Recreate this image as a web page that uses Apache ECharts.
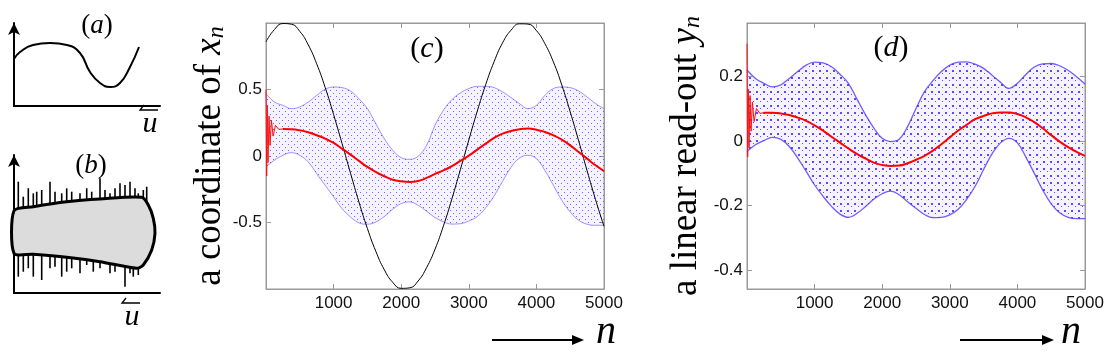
<!DOCTYPE html>
<html>
<head>
<meta charset="utf-8">
<script src="https://cdn.jsdelivr.net/npm/echarts@6/dist/echarts.min.js"></script>
<style>
  html, body { margin: 0; padding: 0; background: #fff; }
  #chart { width: 1110px; height: 353px; }
</style>
</head>
<body>
<div id="chart"></div>
<script>
// (a) schematic curve
var curveAX = [0, 6, 19, 36, 53, 66, 76, 86, 96, 106, 116, 125];
var curveAY = [47, 54, 61, 63, 61, 53, 34, 23, 19, 23, 39, 59];

// (b) schematic: outline of the grey body and the spikes
var shapeBX = [0, 19.3, 52.7, 86, 127.7, 134.3, 139.3, 141, 137.7, 129.3, 122.7, 86, 52.7, 19.3, 0];
var shapeBY = [82.3, 86.3, 91.3, 94, 95.7, 88, 74.7, 59.7, 43, 28, 24.7, 31.3, 35.7, 38.7, 39.7];
var spikeUpX = [4.3, 9.3, 14.3, 19.3, 22.7, 27.7, 36, 41, 47.7, 52.7, 57.7, 66, 72.7, 77.7, 86, 91, 96, 101, 106, 111, 116, 121, 124.3, 129.3, 132.7];
var spikeUpY = [111.3, 96.3, 104.7, 99.7, 101.3, 103, 111.3, 101.3, 99.7, 104.7, 101.3, 99.7, 104.7, 101.3, 114.7, 103, 99.7, 104.7, 109.7, 108, 111.3, 104.7, 99.7, 103, 106.3];
var spikeDownX = [4.3, 9.3, 14.3, 19.3, 27.7, 36, 41, 47.7, 52.7, 57.7, 66, 72.7, 79.3, 86, 96, 101, 111, 116, 119.3, 124.3];
var spikeDownY = [16.3, 21.3, 24.7, 16.3, 13, 24.7, 26.3, 16.3, 21.3, 24.7, 19.7, 28, 21.3, 24.7, 19.7, 21.3, 6.3, 19.7, 16.3, 18];

// (c), (d) time steps n
var nSteps = [0, 125, 250, 375, 500, 625, 750, 875, 1000, 1125, 1250, 1375, 1500, 1625, 1750, 1875, 2000,
  2125, 2250, 2375, 2500, 2625, 2750, 2875, 3000, 3125, 3250, 3375, 3500, 3625, 3750, 3875, 4000,
  4125, 4250, 4375, 4500, 4625, 4750, 4875, 5000];

// (c) coordinate x_n: envelope of the blue cloud, black drive, red mean
var upperC = [0.469, 0.406, 0.381, 0.356, 0.369, 0.406, 0.456, 0.502, 0.519, 0.514, 0.489, 0.431, 0.356, 0.243,
  0.131, 0.043, -0.012, -0.025, -0.002, 0.08, 0.231, 0.344, 0.424, 0.474, 0.507, 0.524, 0.524, 0.514, 0.482,
  0.439, 0.394, 0.356, 0.381, 0.456, 0.507, 0.519, 0.514, 0.489, 0.444, 0.394, 0.356];
var lowerC = [-0.082, -0.032, 0.005, 0.025, 0.005, -0.045, -0.133, -0.22, -0.308, -0.396, -0.458, -0.503, -0.513,
  -0.496, -0.455, -0.4, -0.358, -0.345, -0.371, -0.415, -0.462, -0.495, -0.512, -0.509, -0.489, -0.455, -0.39,
  -0.3, -0.19, -0.085, -0.015, 0.005, -0.02, -0.108, -0.22, -0.333, -0.421, -0.483, -0.513, -0.521, -0.521];
var blackC = [0.859, 0.951, 0.996, 0.991, 0.937, 0.836, 0.693, 0.516, 0.312, 0.094, -0.129, -0.346, -0.545, -0.717,
  -0.855, -0.95, -0.995, -0.991, -0.94, -0.84, -0.701, -0.525, -0.322, -0.103, 0.12, 0.337, 0.537, 0.71, 0.851,
  0.946, 0.994, 0.992, 0.943, 0.845, 0.709, 0.535, 0.332, 0.114, -0.111, -0.328, -0.529];
// red mean from n = 250 on
var redC = [0.203, 0.201, 0.193, 0.178, 0.156, 0.131, 0.098, 0.055, 0.01, -0.037, -0.082, -0.12, -0.152, -0.178,
  -0.19, -0.195, -0.188, -0.165, -0.135, -0.108, -0.077, -0.037, 0.003, 0.048, 0.093, 0.136, 0.168, 0.188, 0.201,
  0.206, 0.198, 0.181, 0.156, 0.123, 0.08, 0.03, -0.02, -0.07, -0.113];
// initial transient, n = 0 .. 250
var redStartN = [0, 10, 20, 30, 45, 60, 80, 105, 140, 190, 250];
var redStartC = [0.5, -0.15, 0.38, -0.05, 0.3, 0.08, 0.27, 0.15, 0.23, 0.2, 0.203];

// (d) read-out y_n
var upperD = [0.219, 0.193, 0.178, 0.167, 0.173, 0.193, 0.214, 0.234, 0.243, 0.241, 0.229, 0.206, 0.178, 0.13,
  0.082, 0.04, 0.008, -0.002, 0.005, 0.044, 0.1, 0.152, 0.186, 0.214, 0.234, 0.243, 0.244, 0.237, 0.224, 0.203,
  0.181, 0.162, 0.178, 0.205, 0.228, 0.238, 0.239, 0.232, 0.218, 0.198, 0.176];
var lowerD = [-0.033, -0.012, 0.001, 0.011, 0.005, -0.017, -0.053, -0.094, -0.136, -0.171, -0.202, -0.226, -0.236,
  -0.224, -0.203, -0.18, -0.163, -0.155, -0.166, -0.188, -0.208, -0.227, -0.237, -0.236, -0.228, -0.211, -0.18,
  -0.14, -0.088, -0.04, -0.006, 0.008, -0.006, -0.05, -0.1, -0.152, -0.194, -0.222, -0.236, -0.24, -0.24];
var redD = [0.087, 0.087, 0.085, 0.08, 0.072, 0.062, 0.048, 0.032, 0.013, -0.005, -0.023, -0.04, -0.054, -0.067,
  -0.074, -0.077, -0.076, -0.069, -0.058, -0.046, -0.03, -0.01, 0.011, 0.032, 0.05, 0.067, 0.077, 0.085, 0.088,
  0.088, 0.083, 0.073, 0.058, 0.039, 0.018, -0.002, -0.019, -0.034, -0.046];
var redStartD = [0.3, -0.05, 0.16, -0.02, 0.14, 0.03, 0.12, 0.06, 0.1, 0.085, 0.087];

var yTicksD = [-0.4, -0.2, 0, 0.2];

var serif = 'Liberation Serif';
var sans = 'Liberation Sans';
var boxColor = '#9a9a9a';

function dotPattern(size, dots, dotColor, bg) {
  var cv = document.createElement('canvas');
  cv.width = cv.height = size;
  var ctx = cv.getContext('2d');
  ctx.fillStyle = bg;
  ctx.fillRect(0, 0, size, size);
  ctx.fillStyle = dotColor;
  dots.forEach(function(d) { ctx.fillRect(d[0], d[1], d[2], d[2]); });
  return { image: cv, repeat: 'repeat' };
}

function pairs(xs, ys) {
  return xs.map(function(x, i) { return [x, ys[i]]; });
}

function diff(a, b) {
  return a.map(function(v, i) { return +(v - b[i]).toFixed(4); });
}

function shapeItem(params, api) {
  if (params.dataIndex !== 0) return;
  var pts = shapeBX.map(function(x, i) { return api.coord([x, shapeBY[i]]); });
  return {
    type: 'polygon',
    shape: { points: pts, smooth: 0.25 },
    style: { fill: '#dcdcdc', stroke: '#000', lineWidth: 3, lineJoin: 'round' }
  };
}

function spikeItem(params, api) {
  var p0 = api.coord([api.value(0), api.value(1)]);
  var p1 = api.coord([api.value(0), api.value(2)]);
  return {
    type: 'line',
    shape: { x1: p0[0], y1: p0[1], x2: p1[0], y2: p1[1] },
    style: { stroke: '#000', lineWidth: 1.6 }
  };
}

var spikeData = spikeUpX.map(function(x, i) { return [x, 80, spikeUpY[i]]; })
  .concat(spikeDownX.map(function(x, i) { return [x, 45, spikeDownY[i]]; }));

function sketchX(grid, max) {
  return {
    gridIndex: grid, type: 'value', min: 0, max: max,
    axisLine: { show: true, lineStyle: { color: '#000', width: 2 } },
    axisTick: { show: false }, axisLabel: { show: false }, splitLine: { show: false }
  };
}
function sketchY(grid, max) {
  return {
    gridIndex: grid, type: 'value', min: 0, max: max,
    axisLine: { show: true, symbol: ['none', 'arrow'], symbolSize: [9, 12], lineStyle: { color: '#000', width: 2 } },
    axisTick: { show: false }, axisLabel: { show: false }, splitLine: { show: false }
  };
}

function plotX(grid, pos, labels) {
  return {
    gridIndex: grid, type: 'value', position: pos, min: 0, max: 5000, interval: 1000,
    axisLine: { show: true, onZero: false, lineStyle: { color: boxColor } },
    axisTick: { show: true, inside: true, length: 5, lineStyle: { color: boxColor } },
    axisLabel: {
      show: labels, showMinLabel: false, color: '#111', fontSize: 17, fontFamily: sans, margin: 6,
      formatter: function(v) { return String(v); }
    },
    splitLine: { show: false }
  };
}

function catX(grid) {
  return { gridIndex: grid, type: 'category', show: false, boundaryGap: false, data: nSteps };
}

var nameRich = {
  r: { fontFamily: serif, fontSize: 37, color: '#000' },
  i: { fontFamily: serif, fontSize: 37, fontStyle: 'italic', color: '#000' },
  s: { fontFamily: serif, fontSize: 24, fontStyle: 'italic', color: '#000', verticalAlign: 'bottom' }
};

var labelRich = {
  p: { fontFamily: serif, fontSize: 30, color: '#000' },
  i: { fontFamily: serif, fontSize: 30, fontStyle: 'italic', color: '#000' },
  ps: { fontFamily: serif, fontSize: 27, color: '#000' },
  is: { fontFamily: serif, fontSize: 27, fontStyle: 'italic', color: '#000' }
};

var patC = dotPattern(6, [[0, 0, 1], [3, 3, 1]], 'rgba(80,50,255,0.75)', 'rgba(150,135,255,0.10)');
var patD = dotPattern(7, [[0, 0, 2], [4, 3, 1]], 'rgba(70,40,250,0.85)', 'rgba(150,135,255,0.10)');

function bandSeries(xi, yi, lower, upper, pattern, edge, edgeW, stackName) {
  return [{
    type: 'line', xAxisIndex: xi, yAxisIndex: yi, stack: stackName, stackStrategy: 'all',
    data: lower, smooth: 0.4, showSymbol: false, silent: true,
    lineStyle: { color: edge, width: edgeW }
  }, {
    type: 'line', xAxisIndex: xi, yAxisIndex: yi, stack: stackName, stackStrategy: 'all',
    data: diff(upper, lower), smooth: 0.4, showSymbol: false, silent: true,
    lineStyle: { color: edge, width: edgeW },
    areaStyle: { color: pattern, opacity: 1 }
  }];
}

function label(x, y, text) {
  return { type: 'text', x: x, y: y, style: { text: text, rich: labelRich, align: 'center', verticalAlign: 'middle' } };
}

// italic u with a left harpoon above it
function uArrow(x, y) {
  return [
    { type: 'text', x: x, y: y, style: { text: 'u', font: 'italic 30px ' + serif, fill: '#000', align: 'center', verticalAlign: 'middle' } },
    { type: 'polyline', shape: { points: [[x - 6, y - 19], [x - 10, y - 14], [x + 8, y - 14]] }, style: { stroke: '#000', lineWidth: 1.3, fill: null } }
  ];
}

function nArrow(x0, x1, y, nx) {
  return [
    { type: 'line', shape: { x1: x0, y1: y, x2: x1 - 8, y2: y }, style: { stroke: '#000', lineWidth: 2 } },
    { type: 'polygon', shape: { points: [[x1 - 12, y - 5], [x1, y], [x1 - 12, y + 5]] }, style: { fill: '#000' } },
    { type: 'text', x: nx, y: y - 8, style: { text: 'n', font: 'italic 40px ' + serif, fill: '#000', align: 'center', verticalAlign: 'middle' } }
  ];
}

var chart = echarts.init(document.getElementById('chart'), null, { renderer: 'canvas' });

var option = {
  animation: false,
  backgroundColor: '#fff',
  grid: [
    { left: 14, top: 23, width: 146, height: 83 },
    { left: 14, top: 155, width: 146, height: 138 },
    { left: 266, top: 23, width: 338, height: 266, show: true, borderColor: boxColor, borderWidth: 1 },
    { left: 747, top: 23, width: 338, height: 266, show: true, borderColor: boxColor, borderWidth: 1 }
  ],
  xAxis: [
    sketchX(0, 146),
    sketchX(1, 146),
    plotX(2, 'bottom', true),
    plotX(2, 'top', false),
    catX(2),
    plotX(3, 'bottom', true),
    plotX(3, 'top', false),
    catX(3)
  ],
  yAxis: [
    sketchY(0, 83),
    sketchY(1, 138),
    {
      gridIndex: 2, type: 'value', min: -1, max: 1, interval: 0.5,
      name: '{r|a coordinate of }{i|x}{s|n}', nameLocation: 'middle', nameRotate: 90, nameGap: 25,
      nameTextStyle: { rich: nameRich },
      axisLine: { show: true, onZero: false, lineStyle: { color: boxColor } },
      axisTick: { show: true, inside: true, length: 5, lineStyle: { color: boxColor } },
      axisLabel: { showMinLabel: false, showMaxLabel: false, color: '#111', fontSize: 17, fontFamily: sans, margin: 4 },
      splitLine: { show: false }
    },
    {
      gridIndex: 2, type: 'value', position: 'right', min: -1, max: 1, interval: 0.5,
      axisLine: { show: true, onZero: false, lineStyle: { color: boxColor } },
      axisTick: { show: true, inside: true, length: 5, lineStyle: { color: boxColor } },
      axisLabel: { show: false }, splitLine: { show: false }
    },
    {
      gridIndex: 3, type: 'value', min: -0.457, max: 0.364,
      name: '{r|a linear read-out }{i|y}{s|n}', nameLocation: 'middle', nameRotate: 90, nameGap: 42,
      nameTextStyle: { rich: nameRich },
      axisLine: { show: true, onZero: false, lineStyle: { color: boxColor } },
      axisTick: { show: true, inside: true, length: 5, customValues: yTicksD, lineStyle: { color: boxColor } },
      axisLabel: { customValues: yTicksD, color: '#111', fontSize: 17, fontFamily: sans, margin: 4 },
      splitLine: { show: false }
    },
    {
      gridIndex: 3, type: 'value', position: 'right', min: -0.457, max: 0.364,
      axisLine: { show: true, onZero: false, lineStyle: { color: boxColor } },
      axisTick: { show: true, inside: true, length: 5, customValues: yTicksD, lineStyle: { color: boxColor } },
      axisLabel: { show: false }, splitLine: { show: false }
    }
  ],
  series: [
    {
      type: 'line', xAxisIndex: 0, yAxisIndex: 0, data: pairs(curveAX, curveAY),
      smooth: true, showSymbol: false, lineStyle: { color: '#000', width: 2 }
    },
    {
      type: 'custom', xAxisIndex: 1, yAxisIndex: 1, data: spikeData, renderItem: spikeItem, z: 2
    },
    {
      type: 'custom', xAxisIndex: 1, yAxisIndex: 1, data: pairs(shapeBX, shapeBY), renderItem: shapeItem, z: 3
    }
  ]
    .concat(bandSeries(4, 2, lowerC, upperC, patC, 'rgba(90,60,255,0.55)', 1, 'bandC'))
    .concat([
      {
        type: 'line', xAxisIndex: 2, yAxisIndex: 2, data: pairs(nSteps, blackC),
        smooth: true, showSymbol: false, lineStyle: { color: '#000', width: 1 }, z: 4
      },
      {
        type: 'line', xAxisIndex: 2, yAxisIndex: 2, data: pairs(redStartN, redStartC),
        showSymbol: false, lineStyle: { color: '#ff1010', width: 1 }, z: 5
      },
      {
        type: 'line', xAxisIndex: 2, yAxisIndex: 2, data: pairs(nSteps.slice(2), redC),
        smooth: true, showSymbol: false, lineStyle: { color: '#ff0000', width: 2 }, z: 5
      }
    ])
    .concat(bandSeries(7, 4, lowerD, upperD, patD, 'rgba(70,40,250,0.75)', 1.3, 'bandD'))
    .concat([
      {
        type: 'line', xAxisIndex: 5, yAxisIndex: 4, data: pairs(redStartN, redStartD),
        showSymbol: false, lineStyle: { color: '#ff1010', width: 1 }, z: 5
      },
      {
        type: 'line', xAxisIndex: 5, yAxisIndex: 4, data: pairs(nSteps.slice(2), redD),
        smooth: true, showSymbol: false, lineStyle: { color: '#ff0000', width: 2 }, z: 5
      }
    ]),
  graphic: [
    label(97, 26, '{ps|(}{is|a}{ps|)}'),
    label(91, 166, '{ps|(}{is|b}{ps|)}'),
    label(427, 49, '{p|(}{i|c}{p|)}'),
    label(891, 48, '{p|(}{i|d}{p|)}')
  ]
    .concat(uArrow(150, 124))
    .concat(uArrow(132, 317))
    .concat(nArrow(492, 584, 340, 606))
    .concat(nArrow(960, 1054, 340, 1071))
};

chart.setOption(option);
</script>
</body>
</html>
